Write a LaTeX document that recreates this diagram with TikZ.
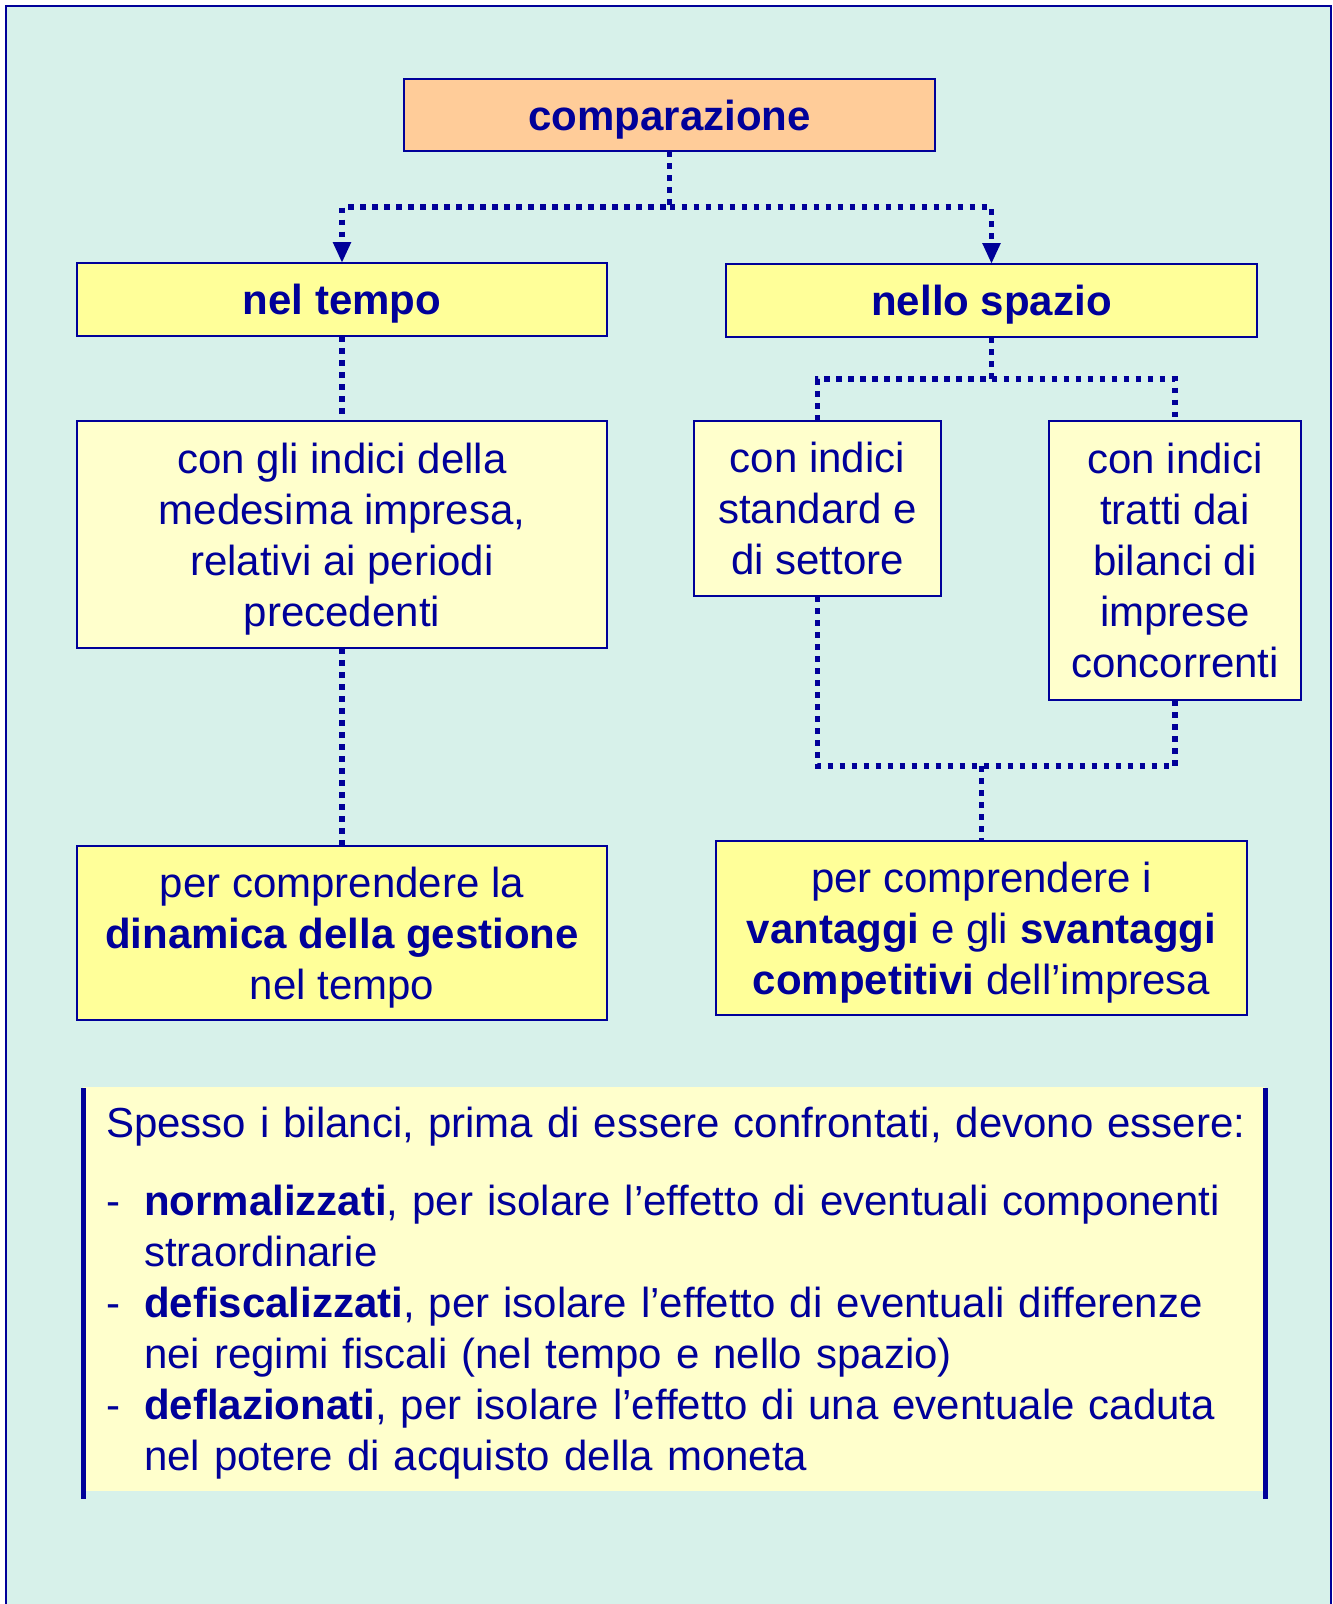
\documentclass[tikz,border=0pt]{standalone}
\usepackage{fontspec}
\setmainfont{Liberation Sans}
\usetikzlibrary{arrows.meta}

\definecolor{mint}{RGB}{215,241,234}
\definecolor{navy}{RGB}{0,0,153}
\definecolor{peach}{RGB}{255,204,153}
\definecolor{lemon}{RGB}{255,255,153}
\definecolor{cream}{RGB}{255,255,204}

% fixed height of the first line and depth of the last line of a box text
\newcommand\hdtop{\rule{0pt}{40pt}}
\newcommand\hdbot{\rule[-10pt]{0pt}{10pt}}

\begin{document}
\begin{tikzpicture}[x=1pt,y=-1pt,
  box/.style={draw=navy, line width=2pt, inner sep=0pt, outer sep=0pt,
    align=center, text=navy, font=\fontsize{42}{51}\selectfont},
  conn/.style={draw=navy, line width=5.3pt, line cap=butt,
    dash pattern=on 5.5pt off 6.5pt},
  tip/.style={-{Triangle[length=21pt,width=17pt]}}
]
\useasboundingbox (0,0) rectangle (1333,1604);
\fill[white] (0,0) rectangle (1333,1604);
\fill[mint] (6,6) rectangle (1331,1604);
\draw[navy, line width=2pt] (6,1610) -- (6,6) -- (1331,6) -- (1331,1610);

% boxes
\node[box, fill=peach, minimum width=531pt, minimum height=72pt] (cmp) at (669.5,115)
  {\hdtop\hdbot\textbf{comparazione}};
\node[box, fill=lemon, minimum width=530pt, minimum height=73pt] (tempo) at (342,299.5)
  {\hdtop\hdbot\textbf{nel tempo}};
\node[box, fill=lemon, minimum width=531pt, minimum height=73pt] (spazio) at (991.5,300.5)
  {\hdtop\hdbot\textbf{nello spazio}};
\node[box, fill=cream, minimum width=530pt, minimum height=227pt] (indici) at (342,534.5)
  {\hdtop con gli indici della\\medesima impresa,\\relativi ai periodi\\precedenti\hdbot};
\node[box, fill=cream, minimum width=247pt, minimum height=175pt] (std) at (817.5,508.5)
  {\hdtop con indici\\standard e\\di settore\hdbot};
\node[box, fill=cream, minimum width=252pt, minimum height=279pt] (tratti) at (1175,560.5)
  {\hdtop con indici\\tratti dai\\bilanci di\\imprese\\concorrenti\hdbot};
\node[box, fill=lemon, minimum width=530pt, minimum height=174pt] (dinamica) at (342,933)
  {\hdtop per comprendere la\\\textbf{dinamica della gestione}\\nel tempo\hdbot};
\node[box, fill=lemon, minimum width=531pt, minimum height=174pt] (vant) at (981.5,928)
  {\hdtop per comprendere i\\\textbf{vantaggi} e gli \textbf{svantaggi}\\\textbf{competitivi} dell’impresa\hdbot};

% junction points of the dotted connectors
\coordinate (jtop) at (669.5,207);
\coordinate (jspa) at (991.5,379);
\coordinate (jbot) at (981.5,766);

\draw[conn, tip] (cmp.south) -- (jtop) -| (tempo.north);
\draw[conn, tip] (jtop) -| (spazio.north);
\draw[conn] (tempo.south) -- (indici.north);
\draw[conn] (indici.south) -- (dinamica.north);
\draw[conn] (spazio.south) -- (jspa) -| (std.north);
\draw[conn] (jspa) -| (tratti.north);
\draw[conn] (std.south) |- (jbot) -| (tratti.south);
\draw[conn] (jbot) -- (vant.north);

% note panel
\fill[cream] (83,1087) rectangle (1265,1491);
\draw[navy, line width=5pt] (83,1088) -- (83,1499);
\draw[navy, line width=5pt] (1265,1088) -- (1265,1499);
\node[anchor=base west, inner sep=0pt, text width=1150pt, align=left, text=navy,
  font=\fontsize{42}{51}\selectfont] (note) at (106,1137) {%
  \parindent=0pt
  Spesso i bilanci, prima di essere confrontati, devono essere:\par
  \vspace{27pt}
  \hangindent=38pt\hangafter=1
  \makebox[38pt][l]{-}\textbf{normalizzati}, per isolare l’effetto di eventuali componenti\break straordinarie\par
  \hangindent=38pt\hangafter=1
  \makebox[38pt][l]{-}\textbf{defiscalizzati}, per isolare l’effetto di eventuali differenze\break nei regimi fiscali (nel tempo e nello spazio)\par
  \hangindent=38pt\hangafter=1
  \makebox[38pt][l]{-}\textbf{deflazionati}, per isolare l’effetto di una eventuale caduta\break nel potere di acquisto della moneta\par};
\end{tikzpicture}
\end{document}
